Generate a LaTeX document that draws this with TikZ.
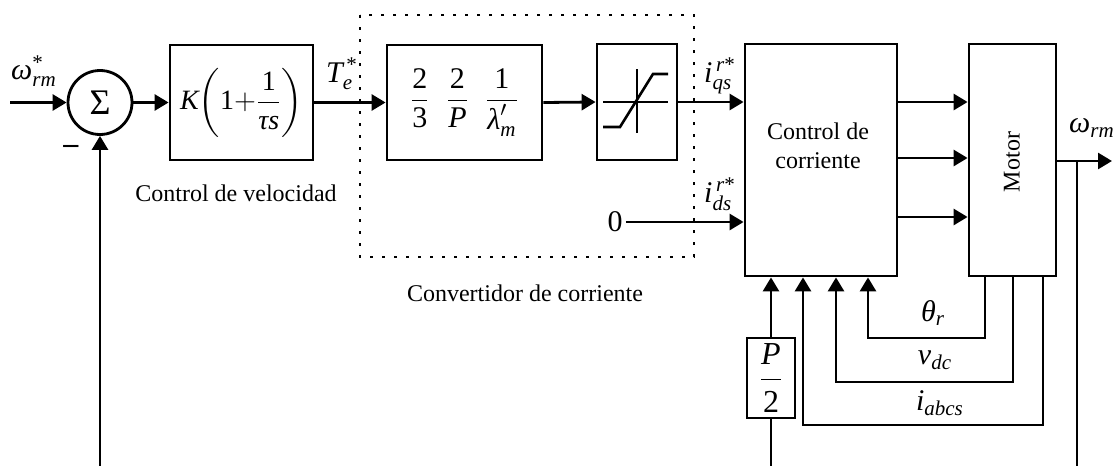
\documentclass[tikz,border=0pt]{standalone}
\usepackage{amsmath}
\usepackage{fontspec}
\setmainfont{Liberation Serif}
\usetikzlibrary{arrows.meta,calc}
\newcommand\mv[1]{\textit{#1}}
\newcommand\mup[1]{\textup{#1}}
\begin{document}
\begin{tikzpicture}[x=0.5pt,y=-0.5pt, line width=1.4pt,
  arr/.style={-{Triangle[length=7pt,width=8pt]}},
  blk/.style={draw, rectangle, inner sep=0pt},
  lbl/.style={font=\fontsize{12}{14.5}\selectfont, text=black},
  mth/.style={font=\fontsize{15}{18}\selectfont, inner sep=0pt},
  bigm/.style={font=\fontsize{15}{18}\selectfont, inner sep=0pt},
  dotbox/.style={line width=1.4pt, dash pattern=on 1.4pt off 4.6pt}]
\useasboundingbox (0,0) rectangle (1116,466);

% blocks
\node[draw, circle, minimum size=32pt, inner sep=0pt, font=\fontsize{18}{20}\selectfont] (sum) at (100,102.5) {Σ};
\node[blk, minimum width=71.5pt, minimum height=57.5pt] (kbox) at (241.5,102.5) {};
\node[font=\fontsize{14}{17}\selectfont, inner sep=0pt] (ktext) at (kbox.center) {$\mv{K}\!\left(\mup{1}{+}\dfrac{\mup{1}}{\mv{τs}}\right)$};
\node[blk, minimum width=77.5pt, minimum height=57.5pt] (conv) at (464.5,102.5) {};
\node[bigm] (convtext) at (conv.center) {$\dfrac{\mup{2}}{\mup{3}}\;\;\dfrac{\mup{2}}{\mv{P}}\;\;\dfrac{\mup{1}}{\mv{λ}'_{\mv{m}}}$};
\node[blk, minimum width=40pt, minimum height=58pt] (sat) at (637,102) {};
\node[blk, minimum width=76pt, minimum height=116pt] (cc) at (821,160) {};
\node[lbl, align=center] (cctext) at (818,146) {Control de\\corriente};
\node[blk, minimum width=43.5pt, minimum height=116pt] (motor) at (1012.5,160) {};
\node[lbl, rotate=90] (motortext) at (1012,162) {Motor};
\node[blk, minimum width=24pt, minimum height=40pt, font=\fontsize{16}{19}\selectfont] (p2) at (771,378) {$\dfrac{\mv{P}}{\mup{2}}$};

% saturation symbol
\draw[line width=1.3pt] (603,102) -- (668,102);
\draw[line width=1.3pt] (637,69) -- (637,133);
\draw[line width=1.3pt] (603,127) -- (620,127) -- (653,74) -- (668,74);

% dotted frame
\draw[dotbox] (360,15) rectangle (694,257);

% coordinates
\coordinate (in) at (10,102.5);
\coordinate (y1) at (0,102);
\coordinate (y2) at (0,158);
\coordinate (y3) at (0,217);
\coordinate (o) at (1077,161);
\coordinate (out) at (1112,161);
\coordinate (fbb) at (1077,466);
\coordinate (fbl) at (100,466);
\coordinate (pbot) at (771,466);
\coordinate (th) at (985,338);
\coordinate (thl) at (868,338);
\coordinate (vd) at (1013,382);
\coordinate (vdl) at (836,382);
\coordinate (ia) at (1043,425);
\coordinate (ial) at (803,425);

% forward path
\draw[arr] (in) -- (sum.west);
\draw[arr] (sum.east) -- (kbox.west);
\draw[arr] (kbox.east) -- (conv.west);
\draw[arr] (conv.east) -- (sat.west);
\draw[arr] (sat.east) -- (sat.east -| cc.west);
\node[font=\fontsize{15}{18}\selectfont, inner sep=1pt] (zero) at (615,222) {0};
\draw[arr] (zero.east) -- (cc.west |- zero);
\draw[arr] (cc.east |- y1) -- (motor.west |- y1);
\draw[arr] (cc.east |- y2) -- (motor.west |- y2);
\draw[arr] (cc.east |- y3) -- (motor.west |- y3);
\draw[arr] (motor.east |- o) -- (out);
\draw (o) -- (fbb);
\draw[arr] (fbl) -- (sum.south);
\draw (pbot) -- (p2.south);
\draw[arr] (p2.north) -- (cc.south -| p2.north);
\draw[arr] (motor.south -| th) -- (th) -- (thl) -- (cc.south -| thl);
\draw[arr] (motor.south -| vd) -- (vd) -- (vdl) -- (cc.south -| vdl);
\draw[arr] (motor.south -| ia) -- (ia) -- (ial) -- (cc.south -| ial);

% labels
\node[mth] (lwin) at (34,71) {$\mv{ω}^{\mup{*}}_{\mv{rm}}$};
\node[mth] (lminus) at (71,149) {\textbf{–}};
\node[mth] (lte) at (342,74) {$\mv{T}^{\,\mup{*}}_{\mv{e}}$};
\node[mth] (liq) at (720,76) {$\mv{i}^{\,\mv{r}\mup{*}}_{\mv{qs}}$};
\node[mth] (lid) at (720,194) {$\mv{i}^{\,\mv{r}\mup{*}}_{\mv{ds}}$};
\node[mth] (lwout) at (1092,128) {$\mv{ω}_{\mv{rm}}$};
\node[mth] (lth) at (933,313) {$\mv{θ}_{\mv{r}}$};
\node[mth] (lvdc) at (935,360) {$\mv{v}_{\mv{dc}}$};
\node[mth] (liab) at (940,403) {$\mv{i}_{\mv{abcs}}$};
\node[lbl] (lvel) at (236,193) {Control de velocidad};
\node[lbl] (lconv) at (525,293) {Convertidor de corriente};
\end{tikzpicture}
\end{document}
